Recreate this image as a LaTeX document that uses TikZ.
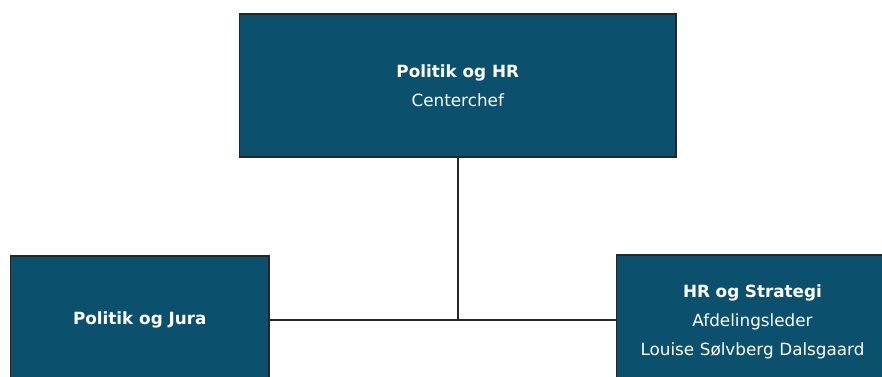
\documentclass[tikz,border=0pt]{standalone}
\usepackage{fontspec}
\setmainfont{DejaVu Sans}
\definecolor{boxfill}{RGB}{11,81,110}
\begin{document}
\begin{tikzpicture}[x=1pt,y=1pt,
  orgbox/.style={draw=black!85, line width=1.1pt, fill=boxfill, text=white,
    align=center, inner sep=0pt, font=\fontsize{16.8}{29}\selectfont},
  conn/.style={draw=black!85, line width=1.9pt}]
\useasboundingbox (0,0) rectangle (882,-376);
\clip (0,0) rectangle (882,-376);
\node[orgbox, minimum width=436.5pt, minimum height=143pt] (top) at (457.75,-85.5)
  {\textbf{Politik og HR}\\Centerchef};
\node[orgbox, minimum width=258.5pt, minimum height=128pt] (left) at (139.75,-320)
  {\textbf{Politik og Jura}};
\node[orgbox, minimum width=272pt, minimum height=133pt, text width=272pt] (right) at (752.5,-321.5)
  {\textbf{HR og Strategi}\\Afdelingsleder\\Louise Sølvberg Dalsgaard};
\draw[conn] (left.east) -- (right.west |- left.east);
\draw[conn] (top.south) -- (top.south |- left.east);
\end{tikzpicture}
\end{document}
